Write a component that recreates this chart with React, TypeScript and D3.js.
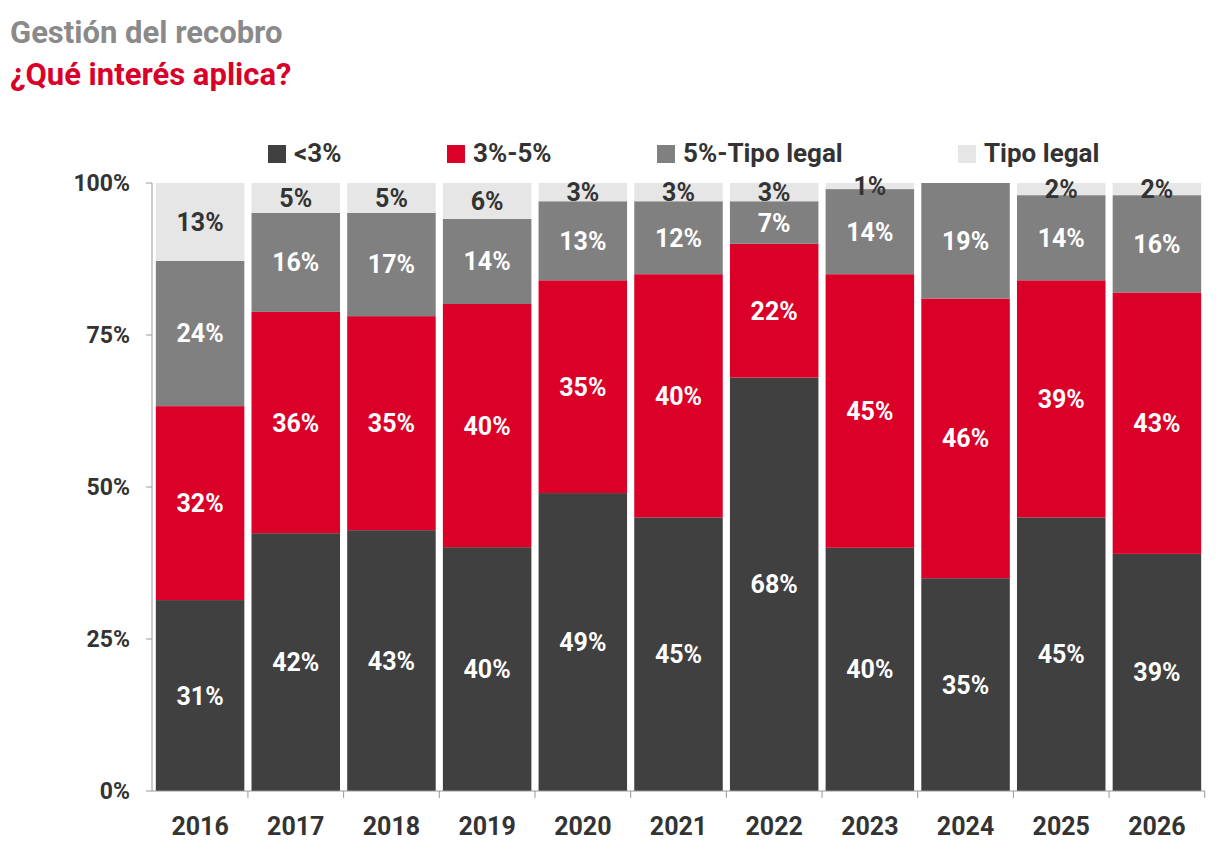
import React from 'react'
import * as d3 from 'd3'

const years = ['2016', '2017', '2018', '2019', '2020', '2021', '2022', '2023', '2024', '2025', '2026']
const seriesNames = ['<3%', '3%-5%', '5%-Tipo legal', 'Tipo legal']
const under3 = [31.4, 42.4, 42.9, 40.1, 49, 45, 68, 40, 35, 45, 39]
const from3to5 = [31.9, 36.4, 35.2, 40, 35, 40, 22, 45, 46, 39, 43]
const from5toLegal = [23.9, 16.3, 17, 14, 13, 12, 7, 14, 19, 14, 16]
const legal = [12.8, 4.9, 4.9, 5.9, 3, 3, 3, 1, 0, 2, 2]
const yTicks = [0, 25, 50, 75, 100]

const colors = ['#404040', '#db0028', '#808080', '#e6e6e6']
const textColors = ['#fff', '#fff', '#fff', '#333']
const font = '"Liberation Sans Narrow", Roboto, sans-serif'

export default function App() {
  const width = 1224
  const height = 850
  const x = d3.scaleBand<string>().domain(years).range([152, 1205]).paddingInner(0.075).paddingOuter(0.04)
  const y = d3.scaleLinear().domain([0, 100]).range([791, 183])

  const rows = years.map((yr, i) => ({ yr, v: [under3[i], from3to5[i], from5toLegal[i], legal[i]] }))
  const stack = d3.stack<{ yr: string; v: number[] }>().keys(['0', '1', '2', '3']).value((d, k) => d.v[+k])
  const layers = stack(rows)

  const legendX = [268, 447, 657, 958]
  const step = x.step()

  return (
    <div style={{ margin: -8 }}>
      <svg width={width} height={height} style={{ display: 'block', fontFamily: font }}>
        <text x={10} y={43} fontSize={31} fontWeight="bold" fill="#8a8a8a">Gestión del recobro</text>
        <text x={10} y={85} fontSize={31} fontWeight="bold" fill="#d9002a">¿Qué interés aplica?</text>

        {seriesNames.map((n, i) => (
          <g key={n} transform={`translate(${legendX[i]},145)`}>
            <rect width={18} height={18} fill={colors[i]} />
            <text x={26} y={17} fontSize={26} fontWeight="bold" fill="#333">{n}</text>
          </g>
        ))}

        {layers.map((layer, li) => (
          <g key={li}>
            {layer.map((d) => {
              const h = y(d[0]) - y(d[1])
              if (h <= 0 && li === 3) return null
              const val = d[1] - d[0]
              const bx = x(d.data.yr)!
              return (
                <g key={d.data.yr}>
                  <rect x={bx} y={y(d[1])} width={x.bandwidth()} height={Math.max(0, h)} fill={colors[li]} />
                  {val > 0 && (
                    <text x={bx + x.bandwidth() / 2} y={(y(d[0]) + y(d[1])) / 2} dy="0.36em" textAnchor="middle"
                      fontSize={25} fontWeight="bold" fill={textColors[li]}>
                      {Math.round(val)}%
                    </text>
                  )}
                </g>
              )
            })}
          </g>
        ))}

        <line x1={152} x2={152} y1={183} y2={791} stroke="#999" />
        {yTicks.map((t) => (
          <g key={t}>
            <line x1={146} x2={152} y1={y(t)} y2={y(t)} stroke="#999" />
            <text x={130} y={y(t)} dy="0.36em" textAnchor="end" fontSize={23} fontWeight="bold" fill="#333">{t}%</text>
          </g>
        ))}
        <line x1={152} x2={1205} y1={791} y2={791} stroke="#999" />
        {years.map((yr, i) => (
          <g key={yr}>
            <line x1={x(yr)! + x.bandwidth() + (step - x.bandwidth()) / 2} x2={x(yr)! + x.bandwidth() + (step - x.bandwidth()) / 2}
              y1={791} y2={798} stroke="#999" />
            <text x={x(yr)! + x.bandwidth() / 2} y={835} textAnchor="middle" fontSize={25} fontWeight="bold" fill="#333">{yr}</text>
          </g>
        ))}
      </svg>
    </div>
  )
}
